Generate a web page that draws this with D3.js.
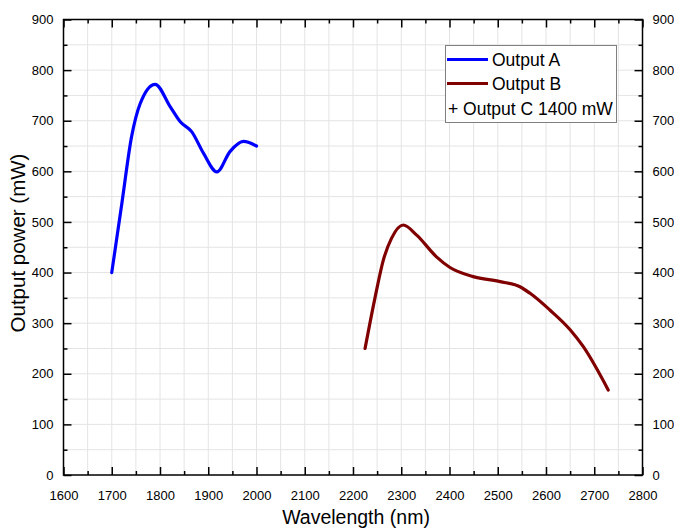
<!DOCTYPE html>
<html>
<head>
<meta charset="utf-8">
<script src="https://cdn.jsdelivr.net/npm/d3@7"></script>
<style>
	body { margin: 0; background: #fff; }
	svg { display: block; font-family: "Liberation Sans", Arial, sans-serif; }
</style>
</head>
<body>
<svg id="chart" width="674" height="531"></svg>
<script>
let w = 674;
let h = 531;

// values
let outputA_wl = [1700, 1721, 1741, 1759, 1790, 1821, 1842, 1866, 1890, 1918, 1945, 1973, 2000];
let outputA_mw = [400, 537, 668, 734, 772, 728, 698, 678, 636, 599, 639, 659, 650];
let outputB_wl = [2225, 2246, 2263, 2280, 2304, 2332, 2373, 2401, 2449, 2505, 2546, 2567, 2608, 2650, 2677, 2729];
let outputB_mw = [250, 352, 425, 468, 494, 474, 431, 410, 392, 382, 372, 359, 326, 287, 254, 168];
let xTicks = d3.range(1600, 2801, 100);
let yTicks = d3.range(0, 901, 100);
let legendItems = ["Output A", "Output B"];
let legendNote = "+ Output C 1400 mW";

let pL = 63.5, pR = 642.5, pT = 19.5, pB = 475;

let x = d3.scaleLinear().domain([1600, 2800]).range([pL, pR]);
let y = d3.scaleLinear().domain([0, 900]).range([pB, pT]);

let svg = d3.select("#chart");

// grid (major + minor)
let gridX = d3.range(1650, 2800, 50);
let gridY = d3.range(50, 900, 50);
svg.append("g").selectAll("line")
	.data(gridX)
	.join("line")
		.attr("x1", d => x(d)).attr("x2", d => x(d))
		.attr("y1", pT).attr("y2", pB)
		.attr("stroke", "#e4e4e4").attr("stroke-width", 1);
svg.append("g").selectAll("line")
	.data(gridY)
	.join("line")
		.attr("x1", pL).attr("x2", pR)
		.attr("y1", d => y(d)).attr("y2", d => y(d))
		.attr("stroke", "#e4e4e4").attr("stroke-width", 1);

// axes with inward ticks
function styleAxis(g) {
	g.select(".domain").remove();
	g.selectAll("text").attr("font-size", 13).attr("fill", "#000");
	g.selectAll("line").attr("stroke", "#000").attr("stroke-width", 1.5);
}
let minorX = d3.range(1650, 2800, 100);
let minorY = d3.range(50, 900, 100);

svg.append("g").attr("transform", `translate(0,${pB})`)
	.call(d3.axisBottom(x).tickValues(xTicks).tickSizeInner(-8).tickPadding(16).tickFormat(d3.format("d")))
	.call(styleAxis);
svg.append("g").attr("transform", `translate(0,${pB})`)
	.call(d3.axisBottom(x).tickValues(minorX).tickSize(-4).tickFormat(""))
	.call(styleAxis);
svg.append("g").attr("transform", `translate(0,${pT})`)
	.call(d3.axisTop(x).tickValues(xTicks).tickSize(-8).tickFormat(""))
	.call(styleAxis);
svg.append("g").attr("transform", `translate(0,${pT})`)
	.call(d3.axisTop(x).tickValues(minorX).tickSize(-4).tickFormat(""))
	.call(styleAxis);
svg.append("g").attr("transform", `translate(${pL},0)`)
	.call(d3.axisLeft(y).tickValues(yTicks).tickSizeInner(-8).tickPadding(10))
	.call(styleAxis);
svg.append("g").attr("transform", `translate(${pL},0)`)
	.call(d3.axisLeft(y).tickValues(minorY).tickSize(-4).tickFormat(""))
	.call(styleAxis);
svg.append("g").attr("transform", `translate(${pR},0)`)
	.call(d3.axisRight(y).tickValues(yTicks).tickSizeInner(-8).tickPadding(10))
	.call(styleAxis);
svg.append("g").attr("transform", `translate(${pR},0)`)
	.call(d3.axisRight(y).tickValues(minorY).tickSize(-4).tickFormat(""))
	.call(styleAxis);

// frame
svg.append("rect")
	.attr("x", pL).attr("y", pT)
	.attr("width", pR - pL).attr("height", pB - pT)
	.attr("fill", "none").attr("stroke", "#000").attr("stroke-width", 1.5);

// curves
let line = d3.line()
	.x(d => x(d[0]))
	.y(d => y(d[1]))
	.curve(d3.curveMonotoneX);

svg.append("path")
	.datum(d3.zip(outputA_wl, outputA_mw))
	.attr("d", line)
	.attr("fill", "none").attr("stroke", "#0000ff").attr("stroke-width", 3.2)
	.attr("stroke-linecap", "round");
svg.append("path")
	.datum(d3.zip(outputB_wl, outputB_mw))
	.attr("d", line)
	.attr("fill", "none").attr("stroke", "#800000").attr("stroke-width", 3.2)
	.attr("stroke-linecap", "round");

// axis titles
svg.append("text")
	.attr("x", 356).attr("y", 524)
	.attr("text-anchor", "middle").attr("font-size", 19.5)
	.text("Wavelength (nm)");
svg.append("text")
	.attr("transform", `translate(25,243) rotate(-90)`)
	.attr("text-anchor", "middle").attr("font-size", 20.5)
	.text("Output power (mW)");

// legend
let legend = svg.append("g");
legend.append("rect")
	.attr("x", 445.5).attr("y", 45.5).attr("width", 171).attr("height", 77)
	.attr("fill", "#fff").attr("stroke", "#808080").attr("stroke-width", 1);
let colors = ["#0000ff", "#800000"];
legend.selectAll("g.item")
	.data(legendItems)
	.join("g")
		.attr("class", "item")
		.attr("transform", (d, i) => `translate(0,${59.5 + i * 24})`)
		.html((d, i) => `
			<line x1="447" x2="488" y1="0" y2="0" stroke="${colors[i]}" stroke-width="3.2"/>
			<text x="492" y="6.5" font-size="17.5">${d}</text>
		`);
legend.append("text")
	.attr("x", 448).attr("y", 115)
	.attr("font-size", 17.5)
	.text(legendNote);
</script>
</body>
</html>
